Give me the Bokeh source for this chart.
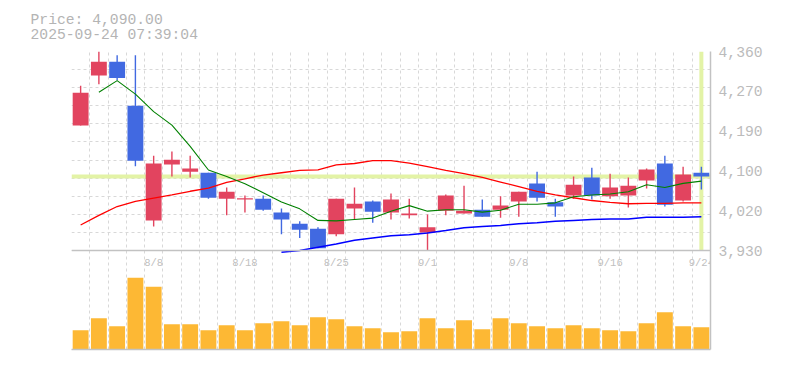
from bokeh.plotting import figure
from bokeh.models import Range1d, FixedTicker, Span, Title
from bokeh.core.properties import value
from bokeh.embed import file_html
from bokeh.resources import INLINE

nan = float("nan")

# ---- data ----
dates = ["8/4", "8/5", "8/6", "8/7", "8/8", "8/12", "8/13", "8/14", "8/15",
         "8/18", "8/19", "8/20", "8/21", "8/22", "8/25", "8/26", "8/27", "8/28",
         "8/29", "9/1", "9/2", "9/3", "9/4", "9/5", "9/8", "9/9", "9/10", "9/11",
         "9/12", "9/16", "9/17", "9/18", "9/19", "9/22", "9/24"]
open_ = [4200, 4308, 4338, 4243, 3995, 4116, 4100, 4098, 4042, 4040, 4042, 4012,
         3988, 3977, 3965, 4021, 4036, 4012, 4006, 3969, 4016, 4010, 4018, 4018,
         4036, 4075, 4034, 4049, 4088, 4047, 4049, 4081, 4118, 4038, 4098]
close = [4271, 4338, 4303, 4124, 4118, 4126, 4107, 4044, 4057, 4043, 4018, 3997,
         3975, 3935, 4042, 4031, 4014, 4040, 4010, 3980, 4049, 4016, 4003, 4027,
         4057, 4044, 4025, 4072, 4049, 4066, 4070, 4105, 4029, 4094, 4090]
high = [4286, 4360, 4352, 4352, 4135, 4144, 4135, 4098, 4066, 4049, 4049, 4021,
        3993, 3980, 4042, 4066, 4038, 4053, 4042, 4008, 4051, 4070, 4040, 4047,
        4057, 4100, 4042, 4090, 4109, 4096, 4088, 4107, 4135, 4111, 4111]
low = [4200, 4289, 4298, 4112, 3982, 4090, 4088, 4042, 4006, 4012, 4016, 3965,
       3957, 3935, 3961, 3996, 3990, 3997, 3999, 3930, 4006, 4010, 4003, 4001,
       4003, 4036, 4003, 4042, 4040, 4042, 4023, 4064, 4025, 4036, 4062]
volume = [58, 94, 70, 215, 188, 76, 76, 58, 73, 58, 79, 85, 73, 97, 91, 70, 64,
          52, 55, 94, 64, 88, 61, 94, 79, 70, 64, 73, 64, 58, 55, 79, 112, 70, 67]
ma_short = [nan, 4272, 4297, 4268, 4230, 4201, 4155, 4104, 4090, 4074, 4055, 4035,
            4020, 3995, 3994, 3997, 4000, 4015, 4027, 4015, 4018, 4018, 4013, 4017,
            4030, 4030, 4033, 4046, 4050, 4052, 4057, 4072, 4066, 4075, 4080]
ma_mid = [3985, 4006, 4025, 4036, 4043, 4050, 4058, 4065, 4077, 4085, 4093, 4098,
          4103, 4104, 4115, 4118, 4124, 4124, 4119, 4111, 4103, 4096, 4088, 4078,
          4068, 4058, 4050, 4044, 4038, 4034, 4031, 4032, 4032, 4033, 4033]
ma_long = [nan] * 11 + [3926, 3930, 3937, 3944, 3952, 3957, 3962, 3964, 3968, 3973,
                        3979, 3982, 3984, 3988, 3990, 3993, 3995, 3997, 3998, 3998,
                        4002, 4002, 4002, 4003]
price_ticks = [3930, 4016, 4102, 4188, 4274, 4360]
price_tick_labels = ["3,930", "4,020", "4,100", "4,190", "4,270", "4,360"]
label_idx = [4, 9, 14, 19, 24, 29, 34]
timestamp = "2025-09-24 07:39:04"
vol_top = 297  # volume level at the panel divider

# ---- layout constants ----
frame_w, frame_h = 639, 298
price_px = 199
vol_px = frame_h - price_px
price_lo, price_hi = price_ticks[0], price_ticks[-1]
y_lo = price_lo - (price_hi - price_lo) * vol_px / price_px

FONT = "Liberation Mono"
UP, DOWN = "#e2445f", "#4169e1"
GRID = "#d8d8d8"
BORDER = "#c2c2c2"
HL = "#e3f3a6"

n = len(dates)
xs = list(range(n))
colors = [UP if c >= o else DOWN for o, c in zip(open_, close)]
tops = [max(o, c) for o, c in zip(open_, close)]
bots = [min(o, c) for o, c in zip(open_, close)]

p = figure(frame_width=frame_w, frame_height=frame_h, output_backend="svg",
           toolbar_location=None, x_range=Range1d(-0.5, n - 0.5),
           y_range=Range1d(y_lo, price_hi), y_axis_location="right",
           min_border_left=71, min_border_top=51, min_border_right=60,
           min_border_bottom=4, outline_line_color=None)
p.extra_y_ranges = {"vol": Range1d(0, vol_top * frame_h / vol_px)}

# grid
p.xgrid.ticker = FixedTicker(ticks=[i - 0.5 for i in range(n + 1)])
p.ygrid.ticker = FixedTicker(ticks=[price_lo + k * (price_hi - price_lo) / 11 for k in range(12)])
for g in (p.xgrid, p.ygrid):
    g.grid_line_color = GRID
    g.grid_line_dash = "3 3"
    g.grid_line_width = 1

# right price axis
ya = p.yaxis[0]
ya.ticker = FixedTicker(ticks=price_ticks)
ya.major_label_overrides = {t: l for t, l in zip(price_ticks, price_tick_labels)}
ya.major_label_text_font = FONT
ya.major_label_text_font_size = "14.7px"
ya.major_label_text_color = "#bbbbbb"
ya.major_label_standoff = 2
ya.major_tick_line_color = None
ya.minor_tick_line_color = None
ya.axis_line_color = BORDER
ya.axis_line_width = 1.5

xa = p.xaxis[0]
xa.ticker = FixedTicker(ticks=[])
xa.major_label_text_font_size = "0px"
xa.major_tick_line_color = None
xa.minor_tick_line_color = None
xa.axis_line_color = BORDER
xa.axis_line_width = 1.5
xa.major_label_standoff = 0

# highlights (current price, latest day)
p.add_layout(Span(location=close[-1], dimension="width", line_color=HL,
                  line_width=4, level="underlay"))
p.segment(x0=[xs[-1]], y0=[price_lo], x1=[xs[-1]], y1=[price_hi],
          line_color=HL, line_width=4)

# divider between price and volume panels
p.add_layout(Span(location=price_lo, dimension="width", line_color=BORDER,
                  line_width=1.5))

# volume
p.vbar(x=xs, top=volume, bottom=0, width=0.87, fill_color="#fdb834",
       line_color=None, y_range_name="vol")

# candles
p.segment(x0=xs, y0=low, x1=xs, y1=high, line_color=colors, line_width=1.4)
p.vbar(x=xs, top=tops, bottom=bots, width=0.87, fill_color=colors, line_color=None)

# moving averages
p.line(xs, ma_long, line_color="#0000ff", line_width=1.5)
p.line(xs, ma_mid, line_color="#ff0000", line_width=1.3)
p.line(xs, ma_short, line_color="#008000", line_width=1.1)

# date labels inside volume panel
p.text(x=label_idx, y=[price_lo] * len(label_idx),
       text=[dates[i] for i in label_idx], y_offset=12,
       text_align="center", text_baseline="middle",
       text_font=value(FONT), text_font_size="10.5px", text_color="#c0c0c0")

title = Title(text=f"Price: {close[-1]:,.2f}\n{timestamp}", align="left",
              offset=-41, standoff=17, text_font=FONT, text_font_size="14.7px",
              text_font_style="normal", text_color="#b4b4b4", text_line_height=0.95)
p.add_layout(title, "above")

open("out.html", "w").write(file_html(p, INLINE))
